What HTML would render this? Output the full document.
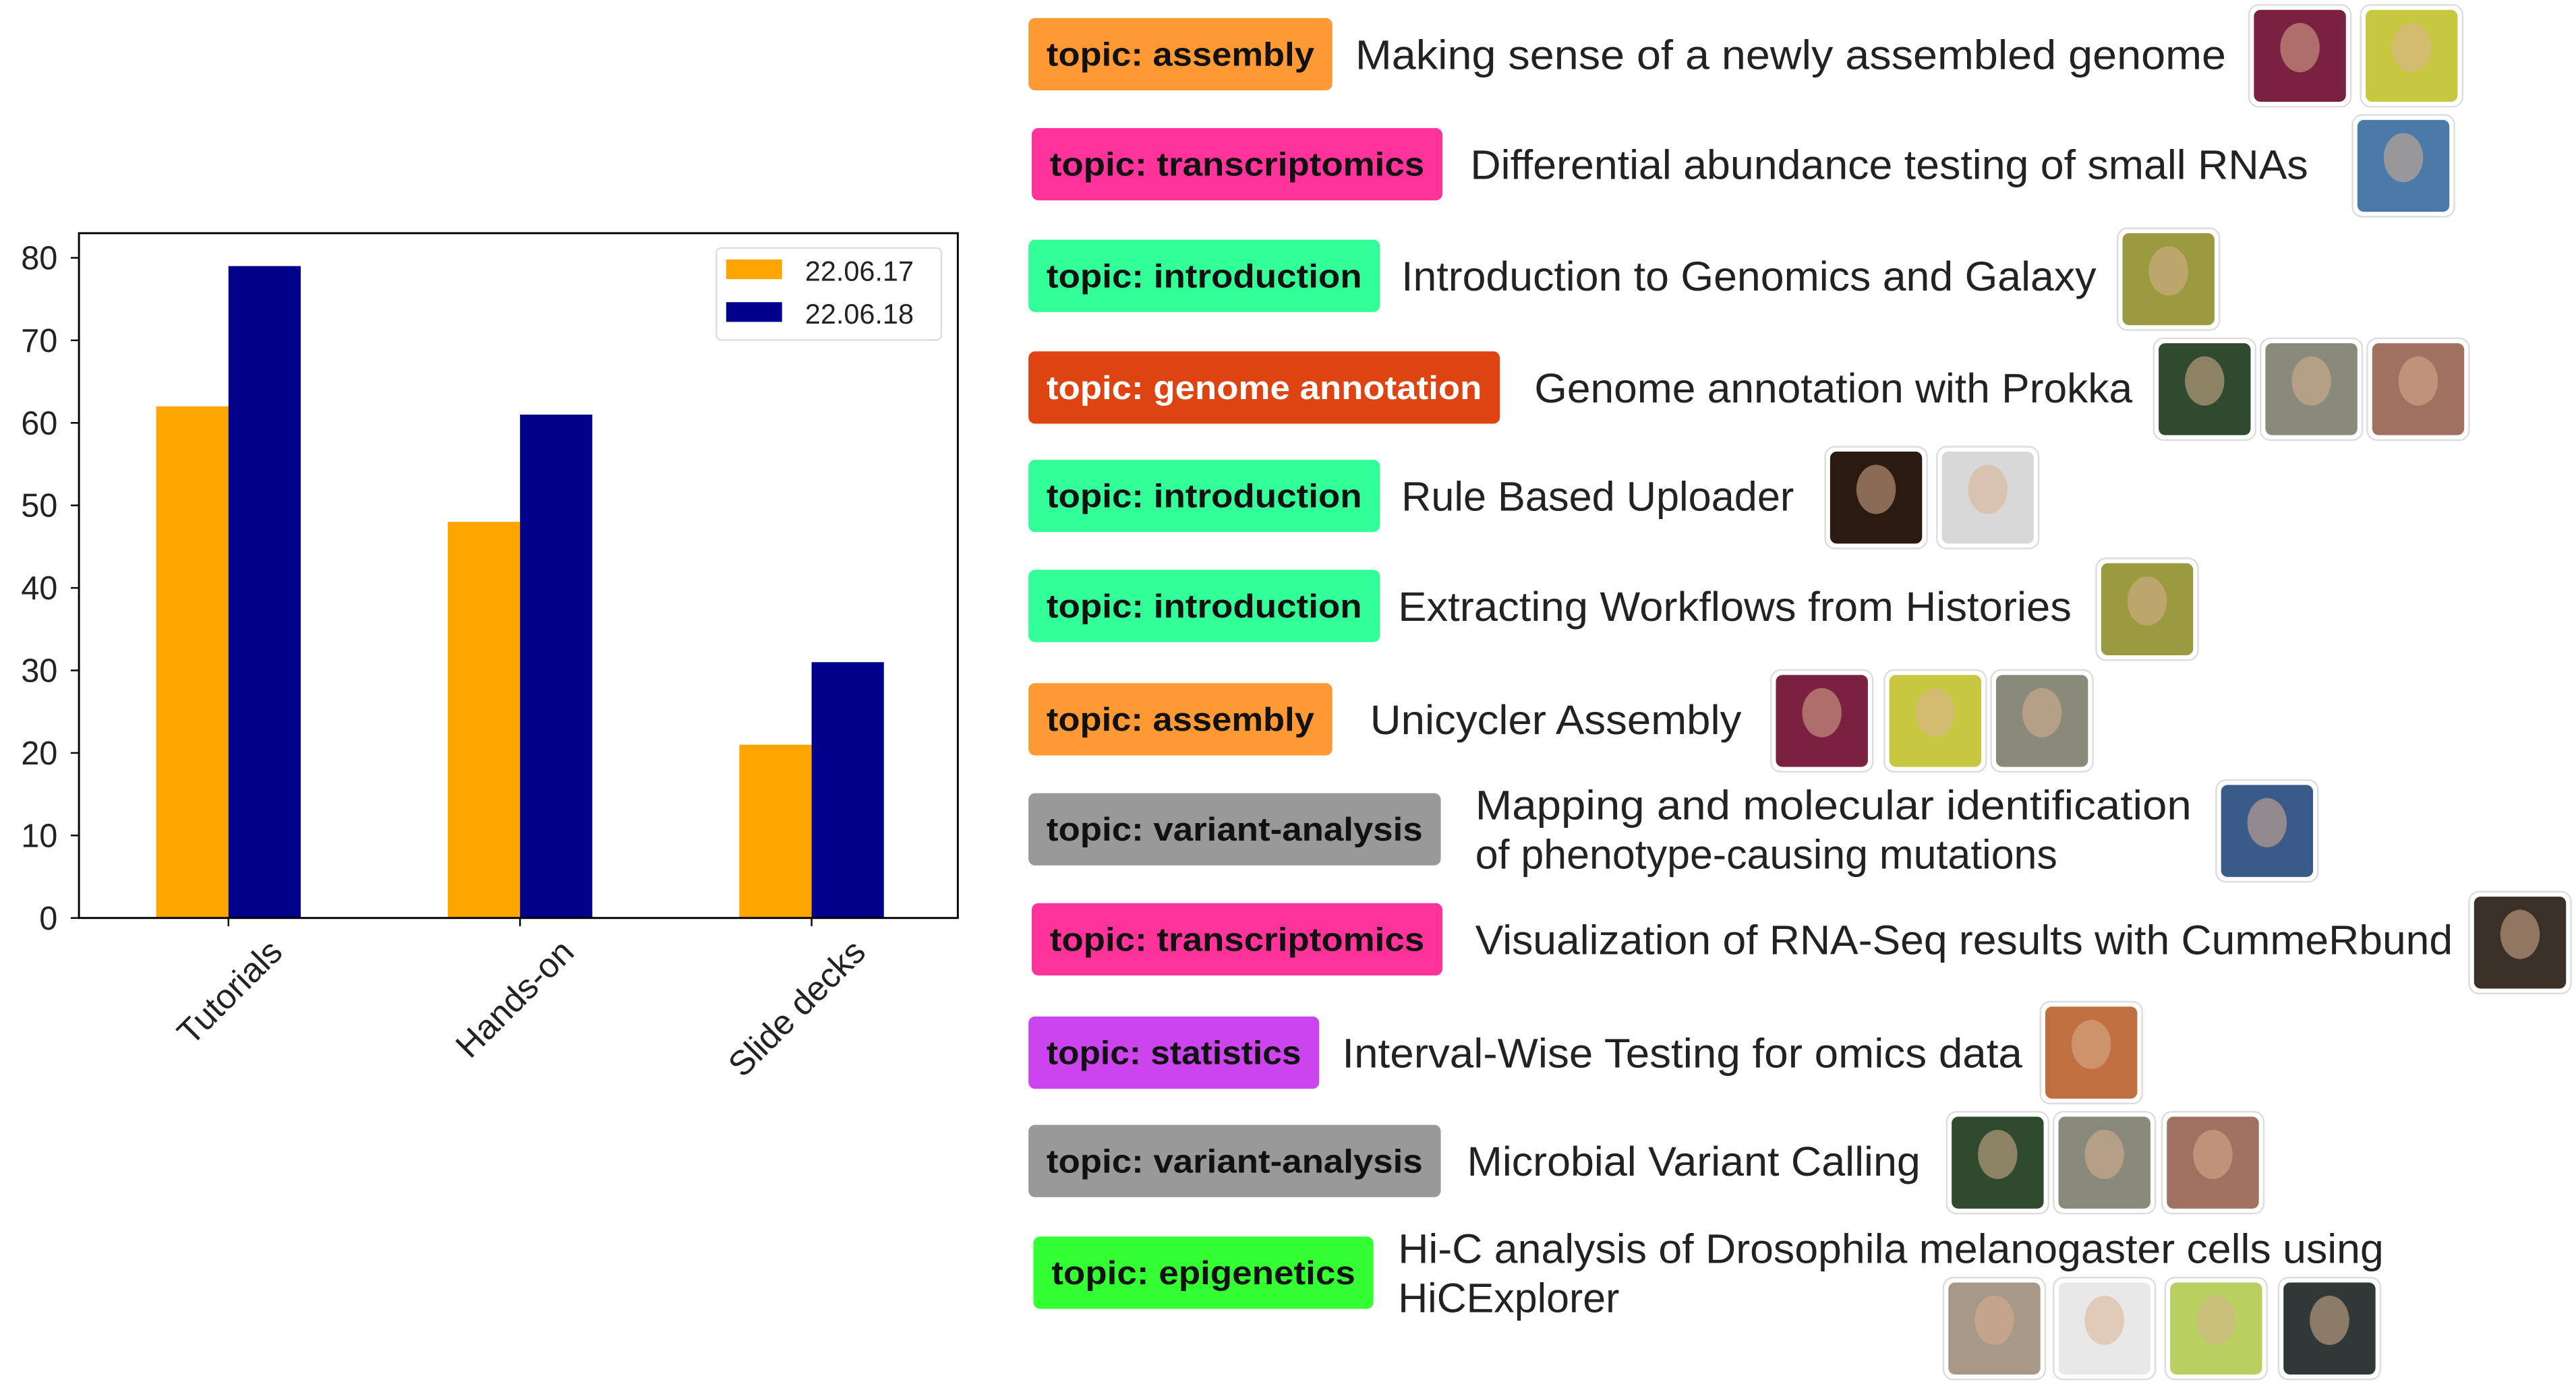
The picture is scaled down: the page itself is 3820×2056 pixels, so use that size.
<!DOCTYPE html>
<html><head><meta charset="utf-8"><style>
html,body{margin:0;padding:0;background:#fff;overflow:hidden}
svg{display:block}
</style></head><body>
<svg id="root" xmlns="http://www.w3.org/2000/svg" width="3820" height="2056" viewBox="0 0 1568 844" font-family="'Liberation Sans', sans-serif">
<rect width="1568" height="844" fill="#fff"/>
<g id="chart"></g>
<g id="list"></g>
</svg>
<script>
const categories = ["Tutorials", "Hands-on", "Slide decks"];
const series2017 = [62, 48, 21];
const series2018 = [79, 61, 31];
const seriesNames = ["22.06.17", "22.06.18"];
const yTicks = [0, 10, 20, 30, 40, 50, 60, 70, 80];

const NS = "http://www.w3.org/2000/svg";
function mk(tag, attrs, parent, text) {
  const e = document.createElementNS(NS, tag);
  for (const k in attrs) e.setAttribute(k, attrs[k]);
  if (text !== undefined) e.textContent = text;
  parent.appendChild(e);
  return e;
}
const chart = document.getElementById('chart');
const L = 48, R = 583, T = 142, B = 559;
const yZero = 559, yUnit = (559 - 157) / 80;
function yScale(v) { return yZero - v * yUnit; }
const groupCenters0 = 139, groupStep = 177.5, barW = 44;
function xCenter(i) { return groupCenters0 + i * groupStep; }

categories.forEach((c, i) => {
  const cx = xCenter(i);
  const b1 = mk('rect', {x: cx - barW, y: yScale(series2017[i]), width: barW, height: yZero - yScale(series2017[i]), fill: '#ffa500'}, chart);
  
  
  const b2 = mk('rect', {x: cx, y: yScale(series2018[i]), width: barW, height: yZero - yScale(series2018[i]), fill: '#00008b'}, chart);
  
  
  const tk = mk('line', {x1: cx, x2: cx, y1: B, y2: B + 5, stroke: '#000', 'stroke-width': 1}, chart);
  
  
  const lb = mk('text', {x: cx + 34, y: B + 22, 'font-size': 21, 'text-anchor': 'end', fill: '#222', transform: `rotate(-45 ${cx + 34} ${B + 22})`}, chart, c);
  
  
});
const fr = mk('rect', {x: L, y: T, width: R - L, height: B - T, fill: 'none', stroke: '#000', 'stroke-width': 1.2}, chart);


yTicks.forEach(v => {
  const y = yScale(v);
  const t = mk('line', {x1: L - 5, x2: L, y1: y, y2: y, stroke: '#000'}, chart);
  
  
  const tl = mk('text', {x: 35, y: y + 7, 'font-size': 20, 'text-anchor': 'end', fill: '#222'}, chart, String(v));
  
  
});
const lg = mk('g', {}, chart);


mk('rect', {x: 436, y: 151, width: 137, height: 56, rx: 3, fill: '#fff', stroke: '#ddd'}, lg);
[['#ffa500', 0], ['#00008b', 1]].forEach(([col, i]) => {
  const sw = mk('rect', {x: 442, y: 158 + i * 26, width: 34, height: 12, fill: col}, lg);
  
  
  const tx = mk('text', {x: 490, y: 171 + i * 26, 'font-size': 17, fill: '#222'}, lg, seriesNames[i]);
  
  
});

const rows = [
 {topic:'topic: assembly', col:'#ff9933', tc:'#111', bx:626, bw:185, cy:33, lines:['Making sense of a newly assembled genome'], tx:825, tw:530, av:[1369,1437], ay:3, avc:['#7a2040','#c8c840']},
 {topic:'topic: transcriptomics', col:'#ff3399', tc:'#111', bx:628, bw:250, cy:100, lines:['Differential abundance testing of small RNAs'], tx:895, tw:510, av:[1432], ay:70, avc:['#4a7aa8']},
 {topic:'topic: introduction', col:'#33ff99', tc:'#111', bx:626, bw:214, cy:168, lines:['Introduction to Genomics and Galaxy'], tx:853, tw:423, av:[1289], ay:139, avc:['#9a9a40']},
 {topic:'topic: genome annotation', col:'#dd4411', tc:'#fff', bx:626, bw:287, cy:236, lines:['Genome annotation with Prokka'], tx:934, tw:364, av:[1311,1376,1441], ay:206, avc:['#304a30','#8a8a7a','#a07060']},
 {topic:'topic: introduction', col:'#33ff99', tc:'#111', bx:626, bw:214, cy:302, lines:['Rule Based Uploader'], tx:853, tw:239, av:[1111,1179], ay:272, avc:['#2a1a10','#d8d8d8']},
 {topic:'topic: introduction', col:'#33ff99', tc:'#111', bx:626, bw:214, cy:369, lines:['Extracting Workflows from Histories'], tx:851, tw:410, av:[1276], ay:340, avc:['#9a9a40']},
 {topic:'topic: assembly', col:'#ff9933', tc:'#111', bx:626, bw:185, cy:438, lines:['Unicycler Assembly'], tx:834, tw:226, av:[1078,1147,1212], ay:408, avc:['#7a2040','#c8c840','#8a8a7a']},
 {topic:'topic: variant-analysis', col:'#999999', tc:'#111', bx:626, bw:251, cy:505, lines:['Mapping and molecular identification','of phenotype-causing mutations'], tx:898, tw:436, av:[1349], ay:475, avc:['#3a5a8a']},
 {topic:'topic: transcriptomics', col:'#ff3399', tc:'#111', bx:628, bw:250, cy:572, lines:['Visualization of RNA-Seq results with CummeRbund'], tx:898, tw:595, av:[1503], ay:543, avc:['#3a3028']},
 {topic:'topic: statistics', col:'#cc44ee', tc:'#111', bx:626, bw:177, cy:641, lines:['Interval-Wise Testing for omics data'], tx:817, tw:414, av:[1242], ay:610, avc:['#c07040']},
 {topic:'topic: variant-analysis', col:'#999999', tc:'#111', bx:626, bw:251, cy:707, lines:['Microbial Variant Calling'], tx:893, tw:276, av:[1185,1250,1316], ay:677, avc:['#304a30','#8a8a7a','#a07060']},
 {topic:'topic: epigenetics', col:'#33ff33', tc:'#111', bx:629, bw:207, cy:775, lines:['Hi-C analysis of Drosophila melanogaster cells using','HiCExplorer'], tx:851, tw:600, av:[1183,1250,1318,1387], ay:778, avc:['#a89888','#e8e8e8','#b8d060','#303838']}
];
const list = document.getElementById('list');
rows.forEach((r, i) => {
  const g = mk('g', {}, list);
  
  
  const bg = mk('g', {}, g);
  
  
  mk('rect', {x: r.bx, y: r.cy - 22, width: r.bw, height: 44, rx: 4, fill: r.col}, bg);
  mk('text', {x: r.bx + 11, y: r.cy + 7, 'font-size': 20, 'font-weight': 'bold', fill: r.tc, textLength: r.bw - 22, lengthAdjust: 'spacingAndGlyphs'}, bg, r.topic);
  const two = r.lines.length === 2;
  r.lines.forEach((ln, j) => {
    const y = two ? r.cy - 15 + j * 30 + 9 : r.cy + 9;
    const w = j === 0 ? r.tw : null;
    const attrs = {x: r.tx, y: y, 'font-size': 25, fill: '#222'};
    if (w) { attrs.textLength = w; attrs.lengthAdjust = 'spacingAndGlyphs'; }
    const t = mk('text', attrs, g, ln);
    
    
  });
  r.av.forEach((ax, k) => {
    const a = mk('g', {}, g);
    
    
    mk('rect', {x: ax, y: r.ay, width: 62, height: 62, rx: 6, fill: '#fff', stroke: '#ddd'}, a);
    mk('rect', {x: ax + 3, y: r.ay + 3, width: 56, height: 56, rx: 4, fill: r.avc[k]}, a);
    mk('ellipse', {cx: ax + 31, cy: r.ay + 26, rx: 12, ry: 15, fill: '#d8b090', opacity: 0.55}, a);
  });
});
</script>
</body></html>
